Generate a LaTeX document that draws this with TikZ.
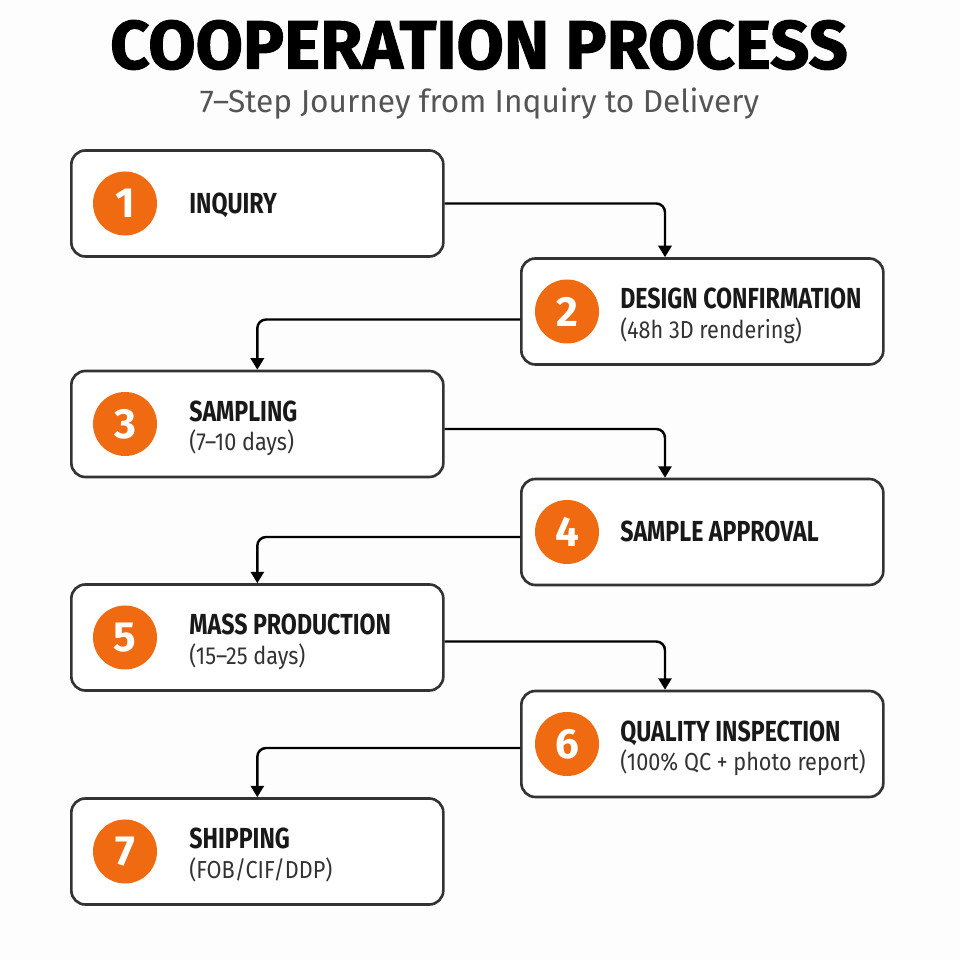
\documentclass[tikz,border=0pt]{standalone}
\usepackage{fontspec}
\setmainfont{Fira Sans}
\newfontfamily\condfont{Fira Sans}[FakeStretch=0.8]
\newfontfamily\narrowfont{Fira Sans}[FakeStretch=0.88]
\newfontfamily\heavyfont{Fira Sans}[FakeBold=1.5]
\usetikzlibrary{arrows.meta,calc}
\usepackage{xcolor}
\definecolor{steporange}{HTML}{F06A12}
\definecolor{cardline}{HTML}{333333}
\definecolor{subgray}{HTML}{555555}
\definecolor{pagebg}{HTML}{FDFDFD}
\tikzset{
  card/.style={draw=cardline,line width=1.5pt,rounded corners=8pt,fill=white,
               minimum height=2.12cm,inner sep=0pt,anchor=west},
  badge/.style={circle,fill=steporange,minimum size=1.28cm,inner sep=0pt,text=white,
                font=\bfseries\fontsize{24}{24}\selectfont},
  cardtitle/.style={anchor=base west,inner sep=0pt,text=black!90,
                    font=\condfont\bfseries\fontsize{16.5}{18}\selectfont},
  cardsub/.style={anchor=base west,inner sep=0pt,text=black!80,
                  font=\narrowfont\fontsize{14}{16}\selectfont},
  flow/.style={line width=1.4pt,rounded corners=5pt,-{Triangle[width=7.5pt,length=6.5pt]}}
}
\newcommand{\stepcard}[9]{%
  \node[card,minimum width=#4 cm] (#1) at (#2,#3) {};
  \node[badge] (#1n) at (#2+#5,#3) {#7};
  \if\relax\detokenize{#9}\relax
    \node[cardtitle] (#1t) at (#2+#6,#3-0.2) {#8};
  \else
    \node[cardtitle] (#1t) at (#2+#6,#3+0.05) {#8};
    \node[cardsub] (#1s) at (#2+#6,#3-0.54) {#9};
  \fi
}

\begin{document}
\begin{tikzpicture}
  \fill[pagebg] (0,0) rectangle (19.2,19.2);
  \useasboundingbox (0,0) rectangle (19.2,19.2);
  \node (title) at (9.58,18.3) {\heavyfont\bfseries\fontsize{39}{44}\selectfont COOPERATION PROCESS};
  \node[text=subgray] (subtitle) at (9.59,17.12) {\fontsize{18}{20}\selectfont 7–Step Journey from Inquiry to Delivery};
  % left column
  \stepcard{b1}{1.4}{15.13}{7.44}{1.1}{2.38}{1}{INQUIRY}{}
  \stepcard{b3}{1.4}{10.72}{7.44}{1.1}{2.38}{3}{SAMPLING}{(7–10 days)}
  \stepcard{b5}{1.4}{6.45}{7.44}{1.1}{2.38}{5}{MASS PRODUCTION}{(15–25 days)}
  \stepcard{b7}{1.4}{2.17}{7.44}{1.1}{2.38}{7}{SHIPPING}{(FOB/CIF/DDP)}
  % right column
  \stepcard{b2}{10.4}{12.97}{7.24}{0.94}{2.0}{2}{DESIGN CONFIRMATION}{(48h 3D rendering)}
  \stepcard{b4}{10.4}{8.56}{7.24}{0.94}{2.0}{4}{SAMPLE APPROVAL}{}
  \stepcard{b6}{10.4}{4.32}{7.24}{0.94}{2.0}{6}{QUALITY INSPECTION}{(100\% QC + photo report)}
  % connectors
  \draw[flow] (b1.east) -| ($(b2.north west)+(2.9,0)$);
  \draw[flow] ([yshift=-0.16cm]b2.west) -| (b3.north);
  \draw[flow] ([yshift=-0.1cm]b3.east) -| ($(b4.north west)+(2.9,0)$);
  \draw[flow] ([yshift=-0.1cm]b4.west) -| (b5.north);
  \draw[flow] ([yshift=-0.08cm]b5.east) -| ($(b6.north west)+(2.9,0)$);
  \draw[flow] ([yshift=-0.08cm]b6.west) -| (b7.north);
\end{tikzpicture}
\end{document}
